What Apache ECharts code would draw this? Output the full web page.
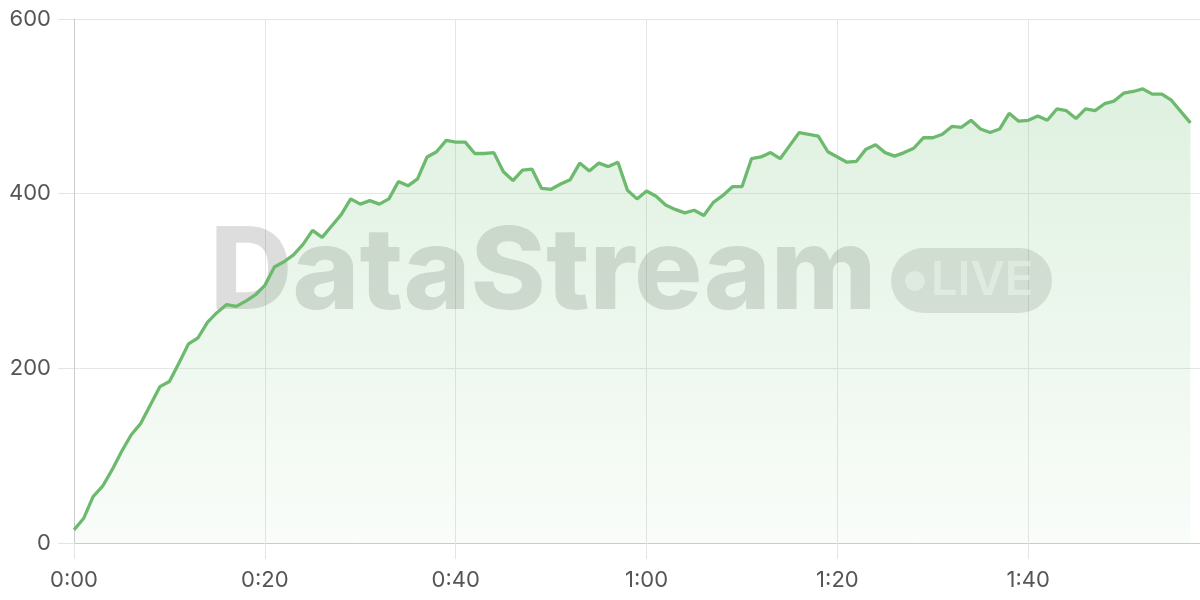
<!DOCTYPE html>
<html>
<head>
<meta charset="utf-8">
<script src="https://cdn.jsdelivr.net/npm/echarts@6/dist/echarts.min.js"></script>
<style>
html,body{margin:0;padding:0;background:#fff;}
#chart{width:1200px;height:600px;}
</style>
</head>
<body>
<div id="chart"></div>
<script>
// seconds elapsed (one point per second)
const seconds = [];
for (let s = 0; s <= 117; s++) seconds.push(s);
const values = [
  15, 28, 53, 65, 84, 105, 124, 137, 158, 179,
  185, 206, 228, 235, 253, 264, 273, 271, 277, 284,
  295, 316, 322, 330, 342, 358, 350, 363, 376, 394,
  388, 392, 388, 394, 414, 409, 417, 442, 448, 461,
  459, 459, 446, 446, 447, 425, 415, 427, 428, 406,
  405, 411, 416, 435, 426, 435, 431, 436, 404, 394,
  403, 397, 387, 382, 378, 381, 375, 390, 398, 408,
  408, 440, 442, 447, 440, 455, 470, 468, 466, 448,
  442, 436, 437, 451, 456, 447, 443, 447, 452, 464,
  464, 468, 477, 476, 484, 474, 470, 474, 492, 483,
  484, 489, 484, 497, 495, 486, 497, 495, 503, 506,
  515, 517, 520, 514, 514, 507, 494, 481
];
const yTicks = [0, 200, 400, 600];
const xTickSeconds = [0, 20, 40, 60, 80, 100];
const watermarkText = 'DataStream';
const badgeText = 'LIVE';

function fmt(v) {
  const m = Math.floor(v / 60);
  const s = Math.round(v % 60);
  return m + ':' + (s < 10 ? '0' + s : s);
}

const chart = echarts.init(document.getElementById('chart'), null, {renderer: 'canvas'});
const data = seconds.map((s, i) => [s, values[i]]);
const green = '#6dba6f';
const labelFont = {color: '#555', fontFamily: 'Inter', fontSize: 22};

chart.setOption({
  animation: false,
  backgroundColor: '#fff',
  grid: {left: 74, right: 0, top: 19, bottom: 57},
  xAxis: {
    type: 'value', min: 0, max: 118, interval: 20,
    axisLine: {show: true, lineStyle: {color: '#cccccc', width: 1}},
    axisTick: {show: true, length: 16, lineStyle: {color: '#e4e4e4'}},
    axisLabel: Object.assign({margin: 26, showMaxLabel: false,
      formatter: v => xTickSeconds.indexOf(v) >= 0 ? fmt(v) : ''}, labelFont),
    splitLine: {show: true, lineStyle: {color: '#e6e6e6', width: 1}}
  },
  yAxis: {
    type: 'value', min: yTicks[0], max: yTicks[yTicks.length - 1], interval: 200,
    axisLine: {show: true, lineStyle: {color: '#cccccc', width: 1}},
    axisTick: {show: true, length: 16, lineStyle: {color: '#e4e4e4'}},
    axisLabel: Object.assign({margin: 23}, labelFont),
    splitLine: {show: true, lineStyle: {color: '#e6e6e6', width: 1}}
  },
  graphic: [
    {
      type: 'text', z: 1, silent: true,
      style: {
        text: watermarkText, x: 210, y: 275,
        font: '800 114px Inter', fill: 'rgba(0,0,0,0.135)',
        textAlign: 'left', textVerticalAlign: 'middle', verticalAlign: 'middle'
      }
    },
    {
      type: 'rect', z: 1, silent: true,
      shape: {x: 891, y: 248, width: 161, height: 65, r: 32.5},
      style: {fill: 'rgba(0,0,0,0.11)'}
    },
    {
      type: 'circle', z: 1, silent: true,
      shape: {cx: 915, cy: 281, r: 10},
      style: {fill: 'rgba(255,255,255,0.55)'}
    },
    {
      type: 'text', z: 1, silent: true,
      style: {
        text: badgeText, x: 931, y: 281,
        font: '600 47px Inter', fill: 'rgba(255,255,255,0.55)',
        textAlign: 'left', textVerticalAlign: 'middle', verticalAlign: 'middle'
      }
    }
  ],
  series: [{
    type: 'line',
    data: data,
    showSymbol: false,
    z: 3,
    lineStyle: {color: green, width: 3.3},
    itemStyle: {color: green},
    areaStyle: {
      color: new echarts.graphic.LinearGradient(0, 0, 0, 1, [
        {offset: 0, color: 'rgba(102,187,106,0.30)'},
        {offset: 1, color: 'rgba(102,187,106,0.05)'}
      ])
    }
  }]
});
</script>
</body>
</html>
